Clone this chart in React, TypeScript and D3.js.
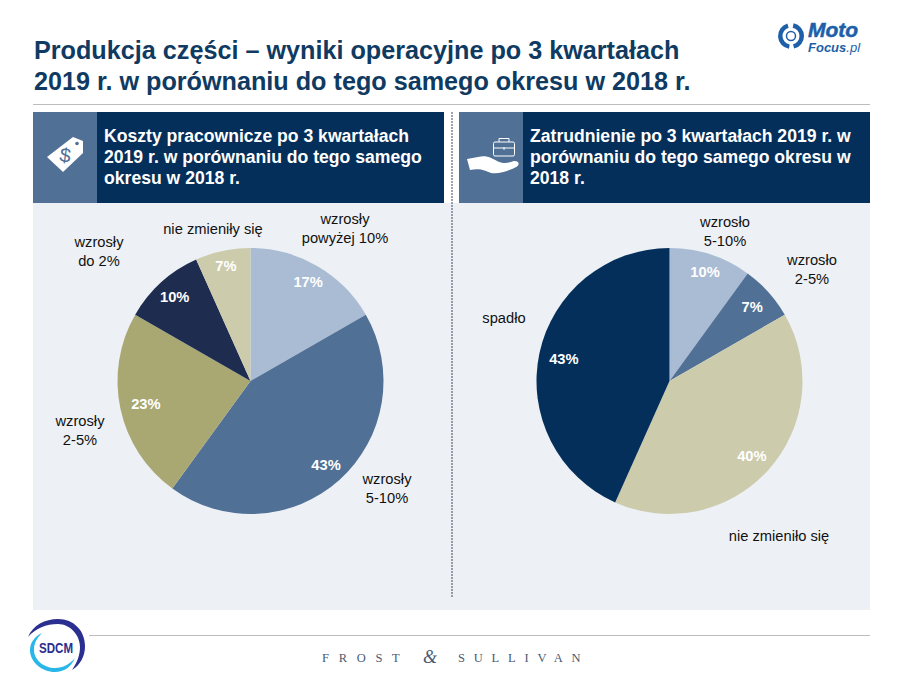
import { useEffect, useRef } from "react";
import * as d3 from "d3";

const titleLines = [
  "Produkcja części – wyniki operacyjne po 3 kwartałach",
  "2019 r. w porównaniu do tego samego okresu w 2018 r.",
];
const leftHeader = [
  "Koszty pracownicze po 3 kwartałach",
  "2019 r. w porównaniu do tego samego",
  "okresu w 2018 r.",
];
const rightHeader = [
  "Zatrudnienie po 3 kwartałach 2019 r. w",
  "porównaniu do tego samego okresu w",
  "2018 r.",
];

// percentages, labels show them rounded
const leftValues = [16.7, 43.3, 23.3, 10, 6.7];
const leftColors = ["#AABCD3", "#517095", "#A9A873", "#1E2D4F", "#CCCBAB"];
const leftLabelRadius = [115, 113, 107, 113, 118];
const leftLabelPos = [
  [345, 219],
  [387, 479],
  [80, 421],
  [99, 242],
  [213, 229],
];
const leftLabels = [
  ["wzrosły", "powyżej 10%"],
  ["wzrosły", "5-10%"],
  ["wzrosły", "2-5%"],
  ["wzrosły", "do 2%"],
  ["nie zmieniły się"],
];

const rightValues = [10, 6.7, 40, 43.3];
const rightColors = ["#AABCD3", "#517095", "#CCCBAB", "#052F5B"];
const rightLabelRadius = [115, 111, 111, 108];
const rightLabelPos = [
  [725, 222],
  [812, 260],
  [779, 536],
  [504, 318],
];
const rightLabels = [
  ["wzrosło", "5-10%"],
  ["wzrosło", "2-5%"],
  ["nie zmieniło się"],
  ["spadło"],
];

const FONT = "'Liberation Sans', Arial, sans-serif";
const SERIF = "'Liberation Serif', serif";

function drawPie(
  svg: d3.Selection<SVGSVGElement, unknown, null, undefined>,
  cx: number,
  values: number[],
  colors: string[],
  labels: string[][],
  labelPos: number[][],
  labelRadius: number[],
) {
  const radius = 133;
  const g = svg.append("g").attr("transform", `translate(${cx},381)`);
  const pie = d3.pie<number>().sort(null).value((d) => d);
  const arc = d3.arc<d3.PieArcDatum<number>>().innerRadius(0).outerRadius(radius);
  const labelArc = d3.arc<d3.PieArcDatum<number>>();
  const arcs = pie(values);
  g.selectAll("path")
    .data(arcs)
    .enter()
    .append("path")
    .attr("d", arc)
    .attr("fill", (_, i) => colors[i]);
  g.selectAll("text")
    .data(arcs)
    .enter()
    .append("text")
    .attr("transform", (d, i) => {
      const c = labelArc.innerRadius(labelRadius[i]).outerRadius(labelRadius[i]).centroid(d);
      return `translate(${c})`;
    })
    .attr("text-anchor", "middle")
    .attr("dy", "0.35em")
    .attr("fill", "#fff")
    .attr("font-weight", "bold")
    .attr("font-size", 14.7)
    .text((d) => `${Math.round(d.data)}%`);
  labels.forEach((lines, i) => {
    lines.forEach((line, j) => {
      svg
        .append("text")
        .attr("x", labelPos[i][0])
        .attr("y", labelPos[i][1] + j * 19 + 5)
        .attr("text-anchor", "middle")
        .attr("font-size", 14.7)
        .attr("fill", "#111")
        .text(line);
    });
  });
}

export default function App() {
  const ref = useRef<SVGSVGElement>(null);

  useEffect(() => {
    document.body.style.margin = "0";
    const svg = d3.select(ref.current as SVGSVGElement);
    svg.selectAll("*").remove();
    svg.attr("font-family", FONT);

    titleLines.forEach((t, i) => {
      svg
        .append("text")
        .attr("x", 34)
        .attr("y", 59 + i * 31)
        .attr("font-size", 25.2)
        .attr("font-weight", "bold")
        .attr("fill", "#0F3A62")
        .text(t);
    });
    svg.append("rect").attr("x", 33).attr("y", 104).attr("width", 837).attr("height", 1).attr("fill", "#BDBDBD");

    svg.append("rect").attr("x", 33).attr("y", 203).attr("width", 837).attr("height", 407).attr("fill", "#EDF1F6");

    const headers = [
      { x: 33, end: 444, lines: leftHeader },
      { x: 459, end: 870, lines: rightHeader },
    ];
    headers.forEach((h) => {
      svg.append("rect").attr("x", h.x).attr("y", 112).attr("width", 64).attr("height", 91).attr("fill", "#517095");
      svg.append("rect").attr("x", h.x + 64).attr("y", 112).attr("width", h.end - h.x - 64).attr("height", 91).attr("fill", "#052F5B");
      h.lines.forEach((t, i) => {
        svg
          .append("text")
          .attr("x", h.x + 71)
          .attr("y", 142 + i * 21)
          .attr("font-size", 17.6)
          .attr("font-weight", "bold")
          .attr("fill", "#fff")
          .text(t);
      });
    });

    svg
      .append("line")
      .attr("x1", 452)
      .attr("x2", 452)
      .attr("y1", 112)
      .attr("y2", 598)
      .attr("stroke", "#3A4A5C")
      .attr("stroke-width", 1)
      .attr("stroke-dasharray", "2 1");

    // price tag icon
    const tag = svg.append("g");
    tag
      .append("path")
      .attr("d", "M47 157 L73 137 L83 141 L83 153 L63 172 Z")
      .attr("fill", "#fff");
    tag.append("circle").attr("cx", 77).attr("cy", 143.5).attr("r", 1.8).attr("fill", "#517095");
    tag
      .append("text")
      .attr("x", 65)
      .attr("y", 162)
      .attr("text-anchor", "middle")
      .attr("font-size", 20)
      .attr("fill", "#517095")
      .attr("transform", "rotate(8 65 157)")
      .text("$");

    // hand + briefcase icon
    const brief = svg.append("g").attr("fill", "none").attr("stroke", "#fff").attr("stroke-width", 1);
    brief.append("rect").attr("x", 493.5).attr("y", 142).attr("width", 21).attr("height", 14).attr("rx", 1.5);
    brief.append("path").attr("d", "M499 142 V138.5 H509 V142 M493.5 148 H514.5 M504 147 V150");
    svg
      .append("path")
      .attr("d", "M467 159 L478 157 C487 155 491 158 497 161 C503 164 507 163 511 162 C514 160 518 161 518.5 163 C519 166 516 167 512 169 C505 172 498 174 491 173 C485 171 481 168 470 170 Z")
      .attr("fill", "#fff");

    drawPie(svg, 250.5, leftValues, leftColors, leftLabels, leftLabelPos, leftLabelRadius);
    drawPie(svg, 669.5, rightValues, rightColors, rightLabels, rightLabelPos, rightLabelRadius);

    // MotoFocus logo
    const arcRing = d3.arc();
    const moto = svg.append("g").attr("transform", "translate(791,36)");
    [
      [0.2, 2.9],
      [3.3, 6.0],
    ].forEach(([a, b]) => {
      moto
        .append("path")
        .attr("d", arcRing({ innerRadius: 8.5, outerRadius: 13, startAngle: a, endAngle: b }) as string)
        .attr("fill", "#1D5FA8");
    });
    moto.append("circle").attr("r", 4.5).attr("fill", "none").attr("stroke", "#1D5FA8").attr("stroke-width", 1.5);
    svg
      .append("text")
      .attr("x", 808)
      .attr("y", 36.5)
      .attr("font-size", 21)
      .attr("font-weight", "bold")
      .attr("font-style", "italic")
      .attr("fill", "#1D5FA8")
      .attr("stroke", "#1D5FA8")
      .attr("stroke-width", 0.5)
      .text("Moto");
    const focus = svg
      .append("text")
      .attr("x", 808)
      .attr("y", 52)
      .attr("font-size", 13)
      .attr("font-style", "italic")
      .attr("fill", "#1D5FA8");
    focus.append("tspan").attr("font-weight", "bold").text("Focus");
    focus.append("tspan").text(".pl");

    // footer
    svg.append("rect").attr("x", 89).attr("y", 635).attr("width", 781).attr("height", 1).attr("fill", "#BDBDBD");
    svg
      .append("path")
      .attr("d", "M28 637 C33 625 45 619 58 619 C74 619 85 631 85 646 C85 657 80 665 72 670 C77 663 80 655 80 647 C80 635 70 624 58 624 C46 624 36 628 28 637 Z")
      .attr("fill", "#2B2F8F");
    svg
      .append("path")
      .attr("d", "M42 633 C34 637 30 643 30 650 C30 662 42 672 55 672 C64 672 71 667 75 658 C70 664 63 668 55 668 C44 668 34 660 34 650 C34 643 37 638 42 633 Z")
      .attr("fill", "#29B6E8");
    svg
      .append("text")
      .attr("x", 39)
      .attr("y", 653)
      .attr("font-size", 15.5)
      .attr("font-weight", "bold")
      .attr("fill", "#2B2F8F")
      .attr("textLength", 34)
      .attr("lengthAdjust", "spacingAndGlyphs")
      .text("SDCM");
    svg
      .append("text")
      .attr("x", 322)
      .attr("y", 662)
      .attr("font-family", SERIF)
      .attr("font-size", 12.5)
      .attr("letter-spacing", 9.7)
      .attr("fill", "#4A5A70")
      .text("FROST");
    svg
      .append("text")
      .attr("x", 430)
      .attr("y", 663)
      .attr("text-anchor", "middle")
      .attr("font-family", SERIF)
      .attr("font-style", "italic")
      .attr("font-size", 18)
      .attr("fill", "#4A5A70")
      .text("&");
    svg
      .append("text")
      .attr("x", 458)
      .attr("y", 662)
      .attr("font-family", SERIF)
      .attr("font-size", 12.5)
      .attr("letter-spacing", 8.8)
      .attr("fill", "#4A5A70")
      .text("SULLIVAN");
  }, []);

  return <svg ref={ref} width={903} height={680} style={{ display: "block" }}></svg>;
}
